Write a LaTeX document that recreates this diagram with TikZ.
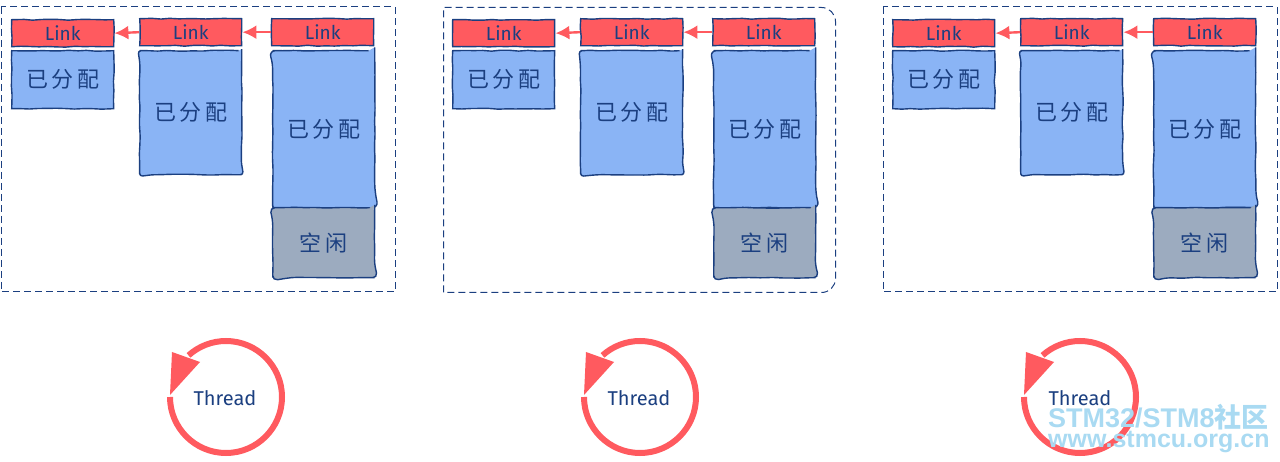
\documentclass[tikz,border=0pt]{standalone}
\usepackage{fontspec}
\setmainfont{Fira Sans}
\newfontfamily\cjkfont[LetterSpace=16]{Noto Sans CJK SC}
\newfontfamily\cjkmark{Noto Sans CJK SC Bold}
\newfontfamily\markfont{Liberation Sans}
\usepackage{tikz}
\usetikzlibrary{arrows.meta,decorations.pathmorphing}

\definecolor{navyline}{HTML}{1B3F80}
\definecolor{linkred}{HTML}{FF5A5F}
\definecolor{allocblue}{HTML}{8AB4F5}
\definecolor{freegrey}{HTML}{9CABBF}
\definecolor{markblue}{HTML}{A9DAF2}

\tikzset{
	frameline/.style={draw=navyline, line width=1pt, dash pattern=on 7pt off 4pt},
	block/.style={draw=navyline, line width=1.4pt, anchor=north west, inner sep=0pt, minimum width=102pt,
		text=navyline, decorate, decoration={random steps, segment length=9pt, amplitude=0.5pt}},
	linkbox/.style={block, fill=linkred, minimum height=27pt, font=\fontsize{19}{21}\selectfont},
	allocbox/.style={block, fill=allocblue, font=\fontsize{22}{24}\cjkfont},
	freebox/.style={block, fill=freegrey, minimum height=70pt, rounded corners=5pt, font=\fontsize{22}{24}\cjkfont},
	linkarrow/.style={draw=linkred, line width=2.4pt, -{Latex[length=14pt,width=14pt]}},
	threadring/.style={draw=linkred, line width=6pt},
	threadtext/.style={text=navyline, font=\fontsize{20}{22}\selectfont},
	watermark/.style={text=markblue, anchor=base west, inner sep=0pt, font=\markfont\bfseries}
}

\begin{document}
\begin{tikzpicture}[x=1pt,y=-1pt]
	\useasboundingbox (0,0) rectangle (1280,462);

	% Left panel
	\draw[frameline] (1,7) rectangle (395,292);
	\node[linkbox] (linkA) at (11,19) {Link};
	\node[linkbox] (linkB) at (139,18) {Link};
	\node[linkbox] (linkC) at (271,18) {Link};
	\node[allocbox, minimum height=58pt] (allocA) at (11,50) {已分配};
	\node[allocbox, minimum height=124pt, rounded corners=3pt] (allocB) at (139,50) {已分配};
	\node[allocbox, minimum height=157pt, rounded corners=6pt] (allocC) at (272,50) {已分配};
	\node[freebox] (freeC) at (272,207) {空闲};
	\draw[linkarrow] (linkB.west) -- (linkA.east);
	\draw[linkarrow] (linkC.west) -- (linkB.east);

	% Middle panel
	\draw[frameline] (443.5,292.5) -- (443.5,7.5) [rounded corners=14pt] -- (835.5,7.5) -- (835.5,292.5) -- (443.5,292.5);
	\node[linkbox] (linkD) at (452,19) {Link};
	\node[linkbox] (linkE) at (580,18) {Link};
	\node[linkbox] (linkF) at (712,18) {Link};
	\node[allocbox, minimum height=58pt] (allocD) at (452,50) {已分配};
	\node[allocbox, minimum height=124pt, rounded corners=3pt] (allocE) at (580,50) {已分配};
	\node[allocbox, minimum height=157pt, rounded corners=6pt] (allocF) at (713,50) {已分配};
	\node[freebox] (freeF) at (713,207) {空闲};
	\draw[linkarrow] (linkE.west) -- (linkD.east);
	\draw[linkarrow] (linkF.west) -- (linkE.east);

	% Right panel
	\draw[frameline] (883,7) rectangle (1277,292);
	\node[linkbox] (linkG) at (892,19) {Link};
	\node[linkbox] (linkH) at (1020,18) {Link};
	\node[linkbox] (linkI) at (1153,18) {Link};
	\node[allocbox, minimum height=58pt] (allocG) at (892,50) {已分配};
	\node[allocbox, minimum height=124pt, rounded corners=3pt] (allocH) at (1020,50) {已分配};
	\node[allocbox, minimum height=157pt, rounded corners=6pt] (allocI) at (1153,50) {已分配};
	\node[freebox] (freeI) at (1153,207) {空闲};
	\draw[linkarrow] (linkH.west) -- (linkG.east);
	\draw[linkarrow] (linkI.west) -- (linkH.east);

	% Thread rings
	\node[threadtext] (threadA) at (225,398) {Thread};
	\draw[threadring] (170,397) arc[start angle=180, end angle=-132, radius=56];
	\fill[linkred] (172,352) -- (200,362) -- (170,395) -- cycle;

	\node[threadtext] (threadB) at (639,398) {Thread};
	\draw[threadring] (584,397) arc[start angle=180, end angle=-132, radius=56];
	\fill[linkred] (586,352) -- (614,362) -- (584,395) -- cycle;

	\node[threadtext] (threadC) at (1080,398) {Thread};
	\draw[threadring] (1024,397) arc[start angle=180, end angle=-132, radius=56];
	\fill[linkred] (1026,352) -- (1054,362) -- (1024,395) -- cycle;

	% Watermark
	\node[watermark] (markA) at (1048,427) {\fontsize{27}{29}\selectfont STM32/STM8{\cjkmark 社区}};
	\node[watermark] (markB) at (1048,447) {\fontsize{25}{27}\selectfont www.stmcu.org.cn};
\end{tikzpicture}
\end{document}
